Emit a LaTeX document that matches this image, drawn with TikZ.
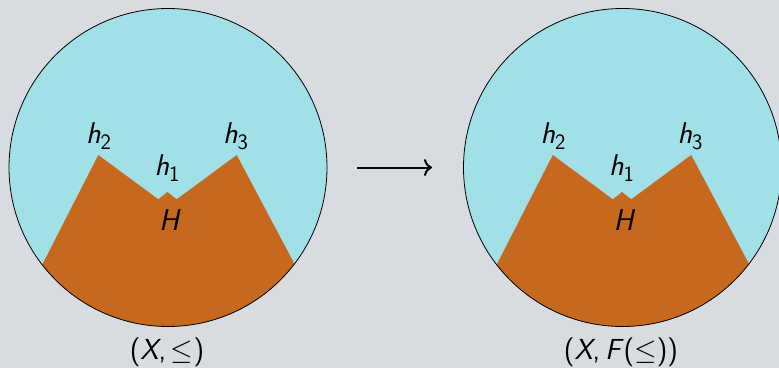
\RequirePackage{fix-cm}
\documentclass[tikz,border=0pt]{standalone}
\usetikzlibrary{arrows.meta}
\definecolor{bgc}{RGB}{216,220,224}
\definecolor{skyc}{RGB}{162,224,231}
\definecolor{rustc}{RGB}{198,104,30}
\newcommand{\mysub}[1]{\raisebox{-6.5pt}{\fontsize{22}{24}\selectfont\upshape #1}}
\begin{document}
\begin{tikzpicture}[x=1pt,y=-1pt,
  lbl/.style={font=\fontsize{30}{36}\selectfont\sffamily\itshape, anchor=base, inner sep=0pt},
  captxt/.style={font=\fontsize{29}{35}\selectfont\sffamily, anchor=base, inner sep=0pt},
  rim/.style={draw=black, line width=0.8pt}]
\fill[bgc] (0,0) rectangle (779,368);
\useasboundingbox (0,0) rectangle (779,368);
\foreach \dx/\nm in {0/L, 454.5/R} {
  \begin{scope}[xshift=\dx pt]
    \fill[skyc] (168,167.5) circle[radius=159];
    \begin{scope}
      \clip (168,167.5) circle[radius=159];
      \fill[rustc] (98.3,155) -- (158.3,199.3) -- (167.5,192) -- (176.7,199.3)
        -- (236.7,155) -- (366.7,400) -- (-27,400) -- cycle;
    \end{scope}
    \draw[rim] (168,167.5) circle[radius=159];
    \node[lbl] (h2\nm) at (98.5,143) {h\mysub{2}};
    \node[lbl] (h3\nm) at (235.5,143) {h\mysub{3}};
    \node[lbl] (h1\nm) at (167,175) {h\mysub{1}};
    \node[lbl] (H\nm) at (169,230) {H};
  \end{scope}
}
\coordinate (a1) at (357,167.5);
\coordinate (a2) at (432,167.5);
\draw[line width=2pt, -{Computer Modern Rightarrow[length=8pt,width=17pt]}] (a1) -- (a2);
\node[captxt] (capL) at (167,359) {(\textit{X},\,$\leq$)};
\node[captxt] (capR) at (621,359) {(\textit{X},\,\textit{F}($\leq$))};
\end{tikzpicture}
\end{document}
